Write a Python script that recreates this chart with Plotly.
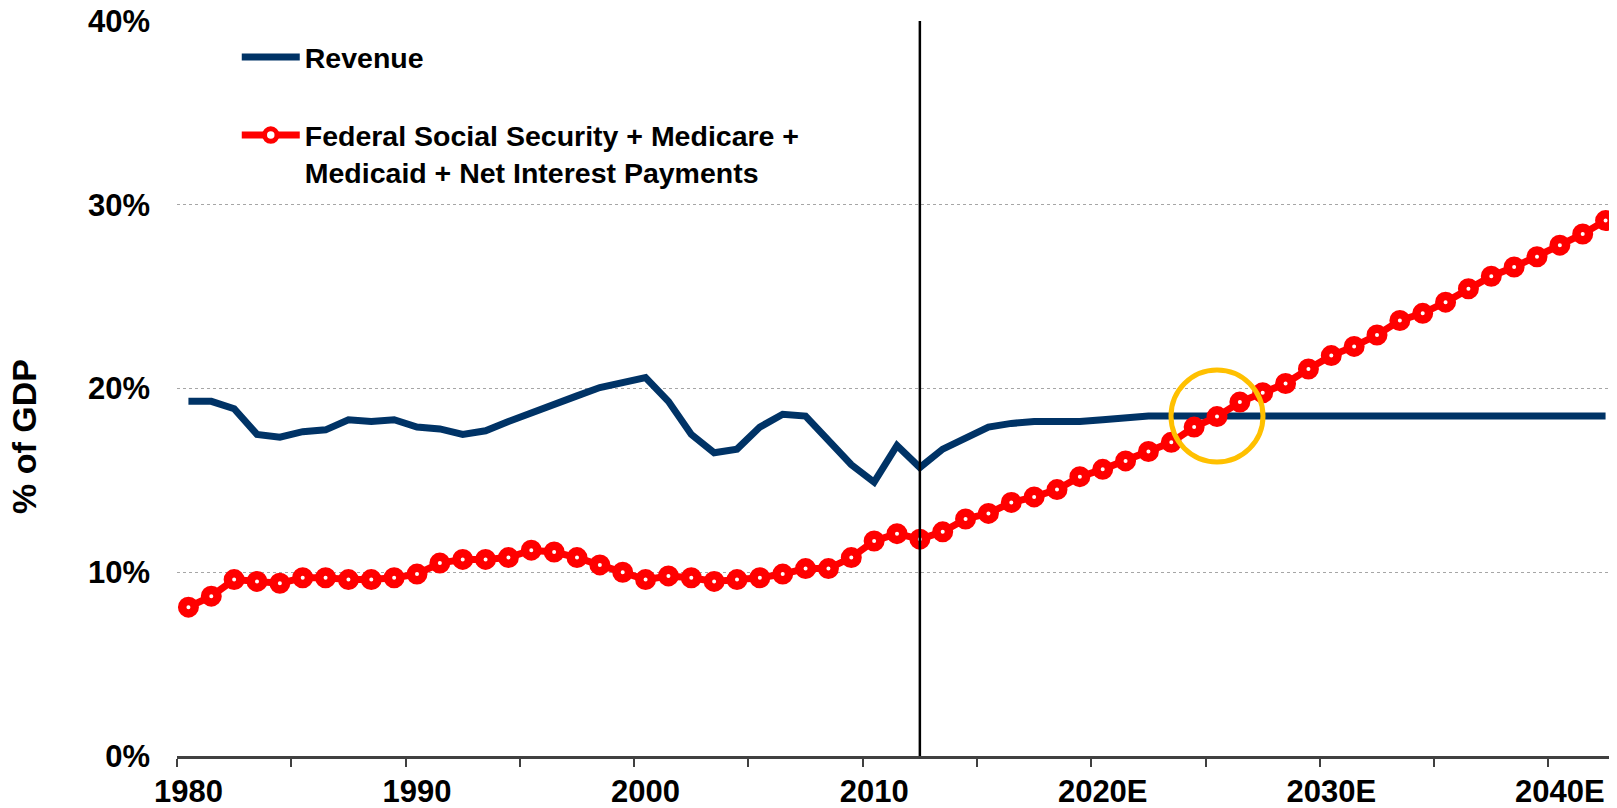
import plotly.graph_objects as go

years = list(range(1980, 2043))

revenue = [19.3, 19.3, 18.9, 17.5, 17.35, 17.65, 17.75, 18.3, 18.2, 18.3,
           17.9, 17.8, 17.5, 17.7, 18.2, 18.7, 19.1, 19.6, 20.05, 20.35,
           20.6, 19.3, 17.5, 16.5, 16.7, 17.9, 18.6, 18.5, 17.15, 15.85,
           14.9, 16.9, 15.7, 16.7, 17.3, 17.9, 18.1, 18.2, 18.2, 18.2,
           18.3, 18.4, 18.5, 18.5, 18.5, 18.5, 18.5, 18.5, 18.5, 18.5,
           18.5, 18.5, 18.5, 18.5, 18.5, 18.5, 18.5, 18.5, 18.5, 18.5,
           18.5, 18.5, 18.5]

entitlements = [8.1, 8.7, 9.6, 9.5, 9.4, 9.7, 9.7, 9.6, 9.6, 9.7,
                9.9, 10.5, 10.7, 10.7, 10.8, 11.2, 11.1, 10.8, 10.4, 10.0,
                9.6, 9.8, 9.7, 9.5, 9.6, 9.7, 9.9, 10.2, 10.2, 10.8,
                11.7, 12.1, 11.8, 12.2, 12.9, 13.2, 13.8, 14.1, 14.5, 15.2,
                15.6, 16.06, 16.57, 17.07, 17.9, 18.47, 19.26, 19.77, 20.27, 21.06,
                21.79, 22.29, 22.91, 23.7, 24.09, 24.7, 25.43, 26.11, 26.61, 27.17,
                27.8, 28.41, 29.14]

tick_years = [1980, 1990, 2000, 2010, 2020, 2030, 2040]
tick_labels = ["1980", "1990", "2000", "2010", "2020E", "2030E", "2040E"]
y_ticks = [0, 10, 20, 30, 40]

divider_year = 2012
crossover_year = 2025
crossover_value = 18.5

FONT = "Liberation Sans, Arial, sans-serif"
NAVY = "#003366"
RED = "#FF0000"

fig = go.Figure()
fig.add_trace(go.Scatter(
    x=years, y=revenue, mode="lines", name="Revenue",
    line=dict(color=NAVY, width=7), legendgroup="a",
    cliponaxis=False,
))
fig.add_trace(go.Scatter(
    x=years, y=entitlements, mode="lines+markers",
    name="Federal Social Security + Medicare +<br>Medicaid + Net Interest Payments",
    line=dict(color=RED, width=7), legendgroup="b",
    marker=dict(symbol="circle", size=12.5, color="white",
                line=dict(color=RED, width=8.5)),
    cliponaxis=False,
))

fig.add_shape(type="line", xref="x", yref="paper", x0=divider_year, x1=divider_year,
              y0=0, y1=1, line=dict(color="black", width=2.5), layer="above")
fig.add_shape(type="circle", xref="x", yref="y", xsizemode="pixel", ysizemode="pixel",
              xanchor=crossover_year, yanchor=crossover_value,
              x0=-46, x1=46, y0=-46, y1=46,
              line=dict(color="#FFC000", width=5), layer="above")

fig.add_annotation(text="% of GDP", xref="paper", yref="paper", x=0, y=0.434,
                   xshift=-153, xanchor="center", yanchor="middle", textangle=-90,
                   showarrow=False,
                   font=dict(family=FONT, size=34, color="black", weight="bold"))

fig.update_layout(
    width=1617, height=808,
    margin=dict(l=169, r=8, t=13, b=60),
    plot_bgcolor="white", paper_bgcolor="white",
    font=dict(family=FONT, size=30, color="black", weight="bold"),
    showlegend=True,
    legend=dict(x=0.0415, y=0.985, xanchor="left", yanchor="top",
                bgcolor="rgba(0,0,0,0)", valign="top", tracegroupgap=38,
                itemwidth=58,
                font=dict(family=FONT, size=28.5, color="black", weight="bold")),
    xaxis=dict(
        range=[1979.5, 2042.5], tickmode="array", tickvals=tick_years,
        ticktext=tick_labels, ticks="", showgrid=False, zeroline=False,
        showline=True, linecolor="#404040", linewidth=3,
        ticklabelstandoff=6, automargin=False, ticklabeloverflow="allow",
        tickfont=dict(family=FONT, size=31, color="black", weight="bold"),
        minor=dict(tick0=1979.5, dtick=5, ticks="outside", ticklen=8,
                   tickwidth=2, tickcolor="#404040", showgrid=False),
    ),
    yaxis=dict(
        range=[0, 40], tickmode="array", tickvals=y_ticks,
        ticktext=[f"{v}%" for v in y_ticks], showgrid=True,
        gridcolor="#A6A6A6", gridwidth=1, griddash="dot",
        zeroline=False, showline=False, ticks="", ticklabelstandoff=26,
        automargin=False, ticklabeloverflow="allow",
        tickfont=dict(family=FONT, size=31, color="black", weight="bold"),
    ),
)

fig.write_html("out.html")
